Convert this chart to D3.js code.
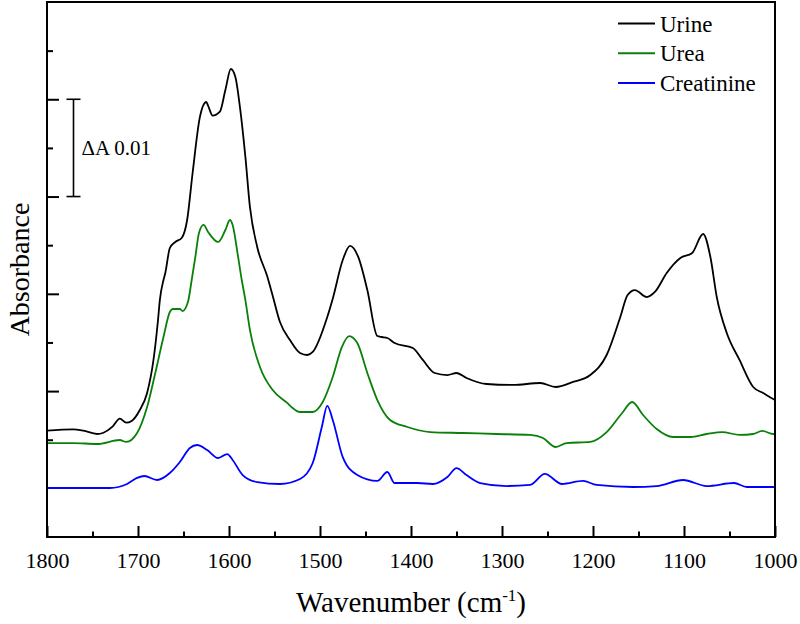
<!DOCTYPE html>
<html>
<head>
<meta charset="utf-8">
<script src="https://cdn.jsdelivr.net/npm/d3@7"></script>
<style>
  html, body { margin: 0; padding: 0; background: #fff; }
  svg { display: block; }
  svg text { font-family: 'Liberation Serif', 'Times New Roman', Tinos, 'DejaVu Serif', serif !important; fill: #000; }
</style>
</head>
<body>
<div id="chart"></div>
<script>
// Absorbance values in units of 1e-3 A (vertically offset spectra, no y labels)
const seriesNames = ["Urine", "Urea", "Creatinine"];
const seriesColors = ["#000000", "#0a800a", "#0000ff"];

const urineWn = [1800,1771,1760,1745,1738,1728,1720,1713,1707,1698,1690,1683,1678,1676,1672,1670,1665,1659,1652,1646,1640,1632,1625,1623,1618,1610,1604,1598,1593,1588,1582,1577,1569,1558,1552,1544,1533,1522,1514,1508,1492,1486,1475,1467,1458,1448,1437,1432,1426,1418,1398,1387,1374,1360,1350,1339,1317,1288,1258,1241,1222,1203,1185,1170,1162,1154,1141,1132,1119,1104,1091,1079,1071,1064,1053,1039,1024,1013,1002,1000];
const urineAbs = [10.93,11.07,10.93,10.59,10.72,11.34,12.16,11.75,11.93,13.06,14.80,18.20,22.31,24.36,26.42,27.14,29.71,30.33,30.74,32.59,37.42,43.17,44.72,44.35,43.32,43.73,45.95,48.11,47.29,44.21,39.07,33.93,29.82,26.80,24.80,22.10,20.25,18.92,18.71,19.02,22.62,24.50,28.48,29.92,28.79,25.39,20.66,20.56,20.46,19.94,19.43,18.20,16.86,16.65,16.86,16.35,15.73,15.63,15.83,15.42,15.94,16.65,18.71,22.62,24.87,25.39,24.67,25.19,27.14,28.68,29.20,31.15,28.79,24.67,20.97,18.20,15.42,14.80,14.19,14.10];

const ureaWn = [1800,1771,1745,1720,1713,1701,1690,1681,1672,1665,1662,1654,1651,1645,1641,1637,1633,1628,1623,1612,1604,1599,1596,1590,1586,1582,1577,1566,1552,1536,1530,1522,1508,1497,1486,1476,1468,1459,1448,1437,1423,1404,1379,1343,1306,1269,1255,1241,1229,1203,1185,1168,1157,1145,1130,1112,1093,1075,1058,1039,1024,1014,1002,1000];
const ureaAbs = [9.66,9.66,9.56,9.97,9.77,10.69,13.36,16.86,20.56,23.13,23.44,23.44,23.23,24.20,26.42,28.79,31.25,32.08,31.36,30.33,31.56,32.59,32.08,28.79,26.42,24.36,21.28,17.48,15.11,13.78,13.26,12.85,12.85,13.88,16.45,19.53,20.66,19.94,16.86,14.08,12.03,11.31,10.79,10.69,10.59,10.49,10.18,9.25,9.66,9.77,10.79,12.75,13.88,12.54,11.10,10.28,10.28,10.59,10.79,10.49,10.59,10.90,10.59,10.59];

const creatWn = [1800,1731,1712,1701,1693,1679,1665,1654,1643,1635,1624,1612,1602,1596,1585,1569,1544,1522,1508,1498,1492,1486,1475,1459,1437,1426,1418,1393,1376,1360,1350,1339,1324,1295,1269,1253,1234,1211,1196,1156,1130,1101,1075,1045,1031,1002,1000];
const creatAbs = [5.04,5.04,5.45,6.07,6.27,5.86,6.58,7.71,9.15,9.46,8.94,8.12,8.53,7.92,6.37,5.65,5.45,5.96,7.61,11.31,13.47,12.03,8.22,6.37,5.76,6.68,5.55,5.55,5.45,6.17,7.09,6.37,5.55,5.24,5.35,6.48,5.45,5.76,5.35,5.14,5.24,5.86,5.24,5.55,5.14,5.14,5.14];

const xTickValues = [1800,1700,1600,1500,1400,1300,1200,1100,1000];
const xMinorTicks = [1750,1650,1550,1450,1350,1250,1150,1050];
const yMajorTicks = [15,25,35,45];
const yMinorTicks = [10,20,30,40,50];
const scaleBar = [35,45];
const scaleBarLabel = "\u0394A 0.01";

const FONT = "'Liberation Serif', 'Times New Roman', Tinos, 'DejaVu Serif', serif";
const W = 800, H = 624;
const m = {left: 47, right: 25, top: 2, bottom: 87};
const iw = W - m.left - m.right, ih = H - m.top - m.bottom;

const svg = d3.select("#chart").append("svg").attr("width", W).attr("height", H)
  .attr("font-family", FONT);
const g = svg.append("g").attr("transform", `translate(${m.left},${m.top})`);

const x = d3.scaleLinear().domain([1800, 1000]).range([0, iw]);
const y = d3.scaleLinear().domain([0, 55]).range([ih, 0]);

const series = [
  {wn: urineWn, a: urineAbs},
  {wn: ureaWn, a: ureaAbs},
  {wn: creatWn, a: creatAbs}
];

const line = d3.line().x(d => x(d[0])).y(d => y(d[1])).curve(d3.curveMonotoneX);

series.forEach((s, i) => {
  const pts = s.wn.map((w, j) => [w, s.a[j]]);
  g.append("path").datum(pts)
    .attr("d", line)
    .attr("fill", "none")
    .attr("stroke", seriesColors[i])
    .attr("stroke-width", 1.8)
    .attr("stroke-linejoin", "round");
});

// Axes (ticks inside)
const xAxis = d3.axisBottom(x).tickValues(xTickValues).tickSize(-11).tickPadding(15).tickFormat(d3.format("d"));
const gx = g.append("g").attr("transform", `translate(0,${ih})`).call(xAxis).attr("font-family", FONT);
gx.selectAll("text").attr("font-family", FONT).style("font-size", "22px");
gx.select(".domain").remove();
gx.selectAll("line").attr("stroke-width", 2);

const gxm = g.append("g").attr("transform", `translate(0,${ih})`)
  .call(d3.axisBottom(x).tickValues(xMinorTicks).tickSize(-5.5).tickFormat(""));
gxm.select(".domain").remove();
gxm.selectAll("line").attr("stroke-width", 2);

const gy = g.append("g").call(d3.axisLeft(y).tickValues(yMajorTicks).tickSize(-12).tickFormat(""));
gy.select(".domain").remove();
gy.selectAll("line").attr("stroke-width", 2);
const gym = g.append("g").call(d3.axisLeft(y).tickValues(yMinorTicks).tickSize(-6).tickFormat(""));
gym.select(".domain").remove();
gym.selectAll("line").attr("stroke-width", 2);

// Frame
g.append("rect").attr("x", 0).attr("y", 0).attr("width", iw).attr("height", ih)
  .attr("fill", "none").attr("stroke", "#000").attr("stroke-width", 2);

// Scale bar
const sbx = 26.5;
const sb = g.append("g");
sb.append("line").attr("x1", sbx).attr("x2", sbx).attr("y1", y(scaleBar[0])).attr("y2", y(scaleBar[1]))
  .attr("stroke", "#000").attr("stroke-width", 1.6);
scaleBar.forEach(v => {
  sb.append("line").attr("x1", sbx - 7).attr("x2", sbx + 7).attr("y1", y(v)).attr("y2", y(v))
    .attr("stroke", "#000").attr("stroke-width", 1.6);
});
sb.append("text").attr("x", sbx + 8).attr("y", y((scaleBar[0] + scaleBar[1]) / 2))
  .attr("dy", "0.35em").attr("font-family", FONT).style("font-size", "21px").text(scaleBarLabel);

// Legend
const lg = svg.append("g");
seriesNames.forEach((n, i) => {
  const yy = 23.5 + i * 29.7;
  lg.append("line").attr("x1", 618).attr("x2", 655).attr("y1", yy).attr("y2", yy)
    .attr("stroke", seriesColors[i]).attr("stroke-width", 2);
  lg.append("text").attr("x", 660).attr("y", yy).attr("dy", "0.35em")
    .attr("font-family", FONT).style("font-size", "23px").text(n);
});

// Axis titles
svg.append("text").attr("transform", `translate(29,${m.top + ih / 2}) rotate(-90)`)
  .attr("text-anchor", "middle").attr("font-family", FONT).style("font-size", "28px").text("Absorbance");

const xt = svg.append("text").attr("x", m.left + iw / 2).attr("y", 612)
  .attr("text-anchor", "middle").attr("font-family", FONT).style("font-size", "29px");
xt.append("tspan").text("Wavenumber (cm");
xt.append("tspan").attr("dy", -11).style("font-size", "17px").text("-1");
xt.append("tspan").attr("dy", 11).text(")");
</script>
</body>
</html>
